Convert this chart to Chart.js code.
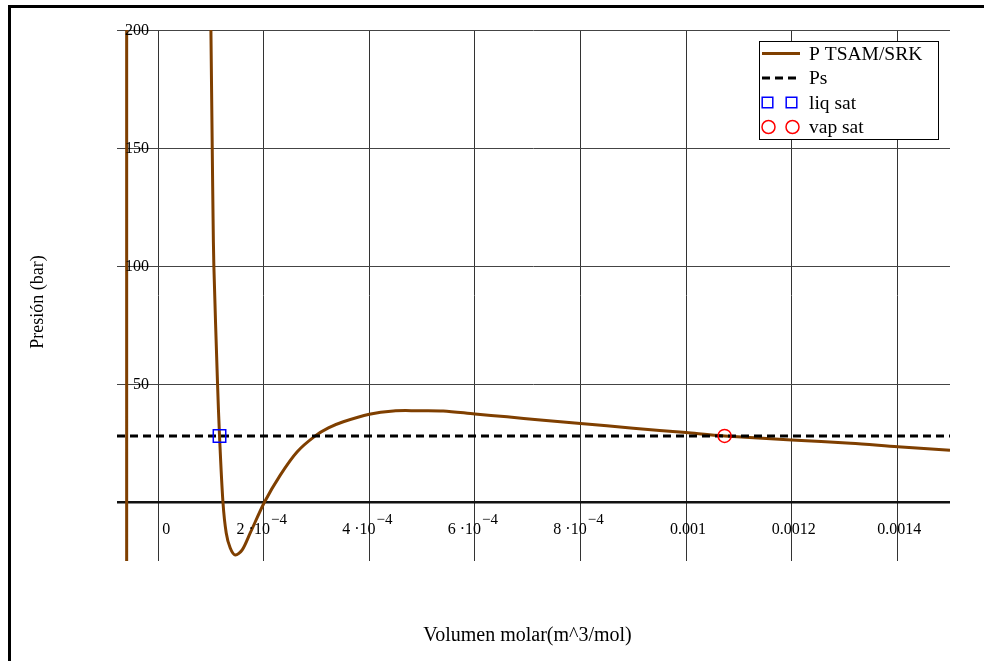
<!DOCTYPE html>
<html>
<head>
<meta charset="utf-8">
<script src="https://cdn.jsdelivr.net/npm/chart.js@4/dist/chart.umd.min.js"></script>
<style>
  html, body { margin: 0; padding: 0; background: #fff; }
  canvas { display: block; }
</style>
</head>
<body>
<canvas id="pvChart" width="984" height="661"></canvas>
<script>
// isoterma P-V (SRK) con presion de saturacion
const SERIF = '"Liberation Serif", "Times New Roman", serif';

const xMin = -7.8e-5, xMax = 1.5e-3;
const yMin = -25, yMax = 200;

const xTicks = [0, 2e-4, 4e-4, 6e-4, 8e-4, 0.001, 0.0012, 0.0014];
const xTickLabels = [['0'], ['2 ·10', '−4'], ['4 ·10', '−4'], ['6 ·10', '−4'], ['8 ·10', '−4'], ['0.001'], ['0.0012'], ['0.0014']];
const yTicks = [0, 50, 100, 150, 200];
const yTickLabels = ['', '50', '100', '150', '200'];

// curva P(V); el null separa la rama de la asintota
const curveV = [-0.597e-4, -0.597e-4, -0.597e-4,
  0.999e-4, 1.024e-4, 1.040e-4, 1.055e-4, 1.124e-4, 1.162e-4, 1.227e-4, 1.289e-4, 1.365e-4, 1.460e-4,
  1.592e-4, 1.744e-4, 2.015e-4, 2.313e-4, 2.630e-4, 2.976e-4, 3.225e-4, 3.507e-4, 4.0e-4, 4.455e-4,
  4.9e-4, 5.4e-4, 6.0e-4, 6.61e-4, 7.24e-4, 8.0e-4, 9.0e-4, 10.0e-4, 10.73e-4, 12.0e-4, 13.12e-4,
  14.01e-4, 15.0e-4];
const curveP = [-25, 200, null,
  200, 150.4, 120, 100, 50.4, 28, 0, -13.1, -19.5, -22.5,
  -20.3, -13.1, 0, 11.4, 21.2, 28, 31.4, 34.0, 37.2, 38.6,
  38.7, 38.6, 37.3, 36.1, 34.7, 33.3, 31.3, 29.4, 28, 26.3, 24.9,
  23.4, 21.9];

const psV = [xMin, xMax];
const psP = [28, 28];
const liqV = [1.162e-4];
const liqP = [28];
const vapV = [1.073e-3];
const vapP = [28];

const toXY = (xs, ys) => xs.map((x, i) => ({ x, y: ys[i] }));

const framePlugin = {
  id: 'frame',
  beforeDraw(chart) {
    const ctx = chart.ctx;
    ctx.save();
    ctx.fillStyle = '#fff';
    ctx.fillRect(0, 0, chart.width, chart.height);
    ctx.fillStyle = '#000';
    ctx.fillRect(8, 5, chart.width - 8, 3);
    ctx.fillRect(8, 5, 3, chart.height - 5);
    ctx.restore();
  }
};

const labelsPlugin = {
  id: 'labels',
  afterDraw(chart) {
    const ctx = chart.ctx;
    const xs = chart.scales.x, ys = chart.scales.y;
    const area = chart.chartArea;
    ctx.save();
    ctx.fillStyle = '#000';

    // y tick labels (inside the plot)
    ctx.font = '16px ' + SERIF;
    ctx.textAlign = 'right';
    ctx.textBaseline = 'middle';
    yTicks.forEach((v, i) => {
      if (yTickLabels[i]) ctx.fillText(yTickLabels[i], area.left + 32, ys.getPixelForValue(v) + 1);
    });

    // x tick labels with exponent
    const baseY = ys.getPixelForValue(0) + 28;
    ctx.textAlign = 'left';
    xTicks.forEach((v, i) => {
      const [main, sup] = xTickLabels[i];
      ctx.font = '16px ' + SERIF;
      const w1 = ctx.measureText(main).width;
      ctx.font = '15px ' + SERIF;
      const w2 = sup ? ctx.measureText(sup).width + 1 : 0;
      const shift = sup ? -2 : (v === 0 ? 8 : 2);
      const x0 = xs.getPixelForValue(v) + shift - (w1 + w2) / 2;
      ctx.font = '16px ' + SERIF;
      ctx.fillText(main, x0, baseY);
      if (sup) {
        ctx.font = '15px ' + SERIF;
        ctx.fillText(sup, x0 + w1 + 1, baseY - 10);
      }
    });

    // axis titles
    ctx.font = '20px ' + SERIF;
    ctx.textAlign = 'center';
    ctx.fillText('Volumen molar(m^3/mol)', (area.left + area.right) / 2 - 6, 636);
    ctx.font = '18px ' + SERIF;
    ctx.translate(38, 302);
    ctx.rotate(-Math.PI / 2);
    ctx.fillText('Presión (bar)', 0, 0);
    ctx.restore();
  }
};

const legendPlugin = {
  id: 'boxLegend',
  afterDraw(chart) {
    const ctx = chart.ctx;
    const area = chart.chartArea;
    const w = 179, h = 98;
    const left = area.right - 12 - w, top = area.top + 11;
    ctx.save();
    ctx.fillStyle = '#fff';
    ctx.fillRect(left, top, w, h);
    ctx.strokeStyle = '#000';
    ctx.lineWidth = 1;
    ctx.strokeRect(left + 0.5, top + 0.5, w, h);

    chart.data.datasets.forEach((ds, i) => {
      const y = top + 12.5 + i * 24.5;
      if (ds.showLine) {
        ctx.strokeStyle = ds.borderColor;
        ctx.lineWidth = 3;
        ctx.setLineDash(ds.borderDash || []);
        ctx.beginPath();
        ctx.moveTo(left + 3, y);
        ctx.lineTo(left + 41, y);
        ctx.stroke();
        ctx.setLineDash([]);
      } else {
        ctx.strokeStyle = ds.pointBorderColor;
        ctx.lineWidth = 1.5;
        [left + 8.5, left + 32.5].forEach(cx => {
          ctx.beginPath();
          if (ds.pointStyle === 'rect') ctx.rect(cx - 5.3, y - 5.3, 10.6, 10.6);
          else ctx.arc(cx + 1, y, 6.5, 0, Math.PI * 2);
          ctx.stroke();
        });
      }
      ctx.fillStyle = '#000';
      ctx.font = '19.5px ' + SERIF;
      ctx.textAlign = 'left';
      ctx.textBaseline = 'middle';
      ctx.fillText(ds.label, left + 50, y + 1);
    });
    ctx.restore();
  }
};

new Chart(document.getElementById('pvChart'), {
  type: 'scatter',
  data: {
    datasets: [
      {
        label: 'P TSAM/SRK',
        data: toXY(curveV, curveP),
        showLine: true,
        spanGaps: false,
        borderColor: '#7f3f00',
        borderWidth: 3,
        pointRadius: 0,
        tension: 0.3,
        order: 3
      },
      {
        label: 'Ps',
        data: toXY(psV, psP),
        showLine: true,
        borderColor: '#000',
        borderWidth: 3,
        borderDash: [8, 5],
        pointRadius: 0,
        order: 2
      },
      {
        label: 'liq sat',
        data: toXY(liqV, liqP),
        showLine: false,
        pointStyle: 'rect',
        pointRadius: 8.8,
        pointBorderColor: '#0000ff',
        pointBackgroundColor: 'rgba(0,0,0,0)',
        pointBorderWidth: 1.5,
        order: 1
      },
      {
        label: 'vap sat',
        data: toXY(vapV, vapP),
        showLine: false,
        pointStyle: 'circle',
        pointRadius: 6.5,
        pointBorderColor: '#ff0000',
        pointBackgroundColor: 'rgba(0,0,0,0)',
        pointBorderWidth: 1.5,
        order: 0
      }
    ]
  },
  options: {
    responsive: false,
    animation: false,
    layout: { padding: { left: 117, right: 34, top: 30, bottom: 100 } },
    plugins: {
      legend: { display: false },
      tooltip: { enabled: false }
    },
    scales: {
      x: {
        type: 'linear',
        min: xMin,
        max: xMax,
        afterBuildTicks: s => { s.ticks = xTicks.map(value => ({ value })); },
        afterFit: s => { s.height = 0; },
        ticks: { display: false },
        border: { display: false },
        grid: { color: '#333', lineWidth: 1, drawTicks: false }
      },
      y: {
        type: 'linear',
        min: yMin,
        max: yMax,
        afterBuildTicks: s => { s.ticks = yTicks.map(value => ({ value })); },
        afterFit: s => { s.width = 0; },
        ticks: { display: false },
        border: { display: false },
        grid: {
          color: ctx => ctx.tick && ctx.tick.value === 0 ? '#111' : '#444',
          lineWidth: ctx => ctx.tick && ctx.tick.value === 0 ? 2.5 : 1,
          drawTicks: false
        }
      }
    }
  },
  plugins: [framePlugin, labelsPlugin, legendPlugin]
});
</script>
</body>
</html>
